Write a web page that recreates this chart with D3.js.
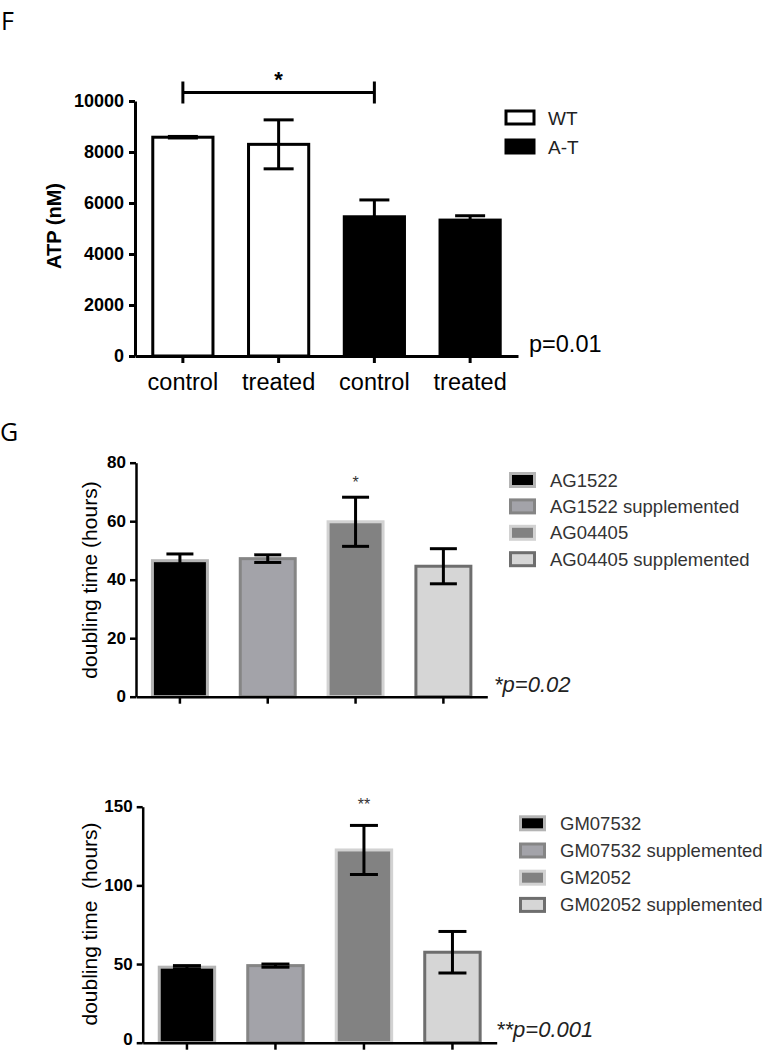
<!DOCTYPE html>
<html>
<head>
<meta charset="utf-8">
<script src="https://cdn.jsdelivr.net/npm/d3@7"></script>
<style>
  html, body { margin: 0; padding: 0; background: #fff; }
  svg { display: block; }
  text { font-family: "Liberation Sans", Arial, sans-serif; }
</style>
</head>
<body>
<svg id="chart" width="764" height="1050"></svg>
<script>
// ---------- DATA ----------
const fCategories = ["control", "treated", "control", "treated"];
const fGroups = ["WT", "WT", "A-T", "A-T"];
const fMeans = [8580, 8300, 5460, 5330];
const fErrors = [30, 960, 660, 170];
const fTicks = [0, 2000, 4000, 6000, 8000, 10000];
const fLegend = ["WT", "A-T"];

const gTopLabels = ["AG1522", "AG1522 supplemented", "AG04405", "AG04405 supplemented"];
const gTopMeans = [46.5, 47.2, 59.8, 44.6];
const gTopErrors = [2.3, 1.3, 8.4, 6.0];
const gTopTicks = [0, 20, 40, 60, 80];

const gBotLabels = ["GM07532", "GM07532 supplemented", "GM2052", "GM02052 supplemented"];
const gBotMeans = [48, 49, 122.5, 57.5];
const gBotErrors = [1, 1, 15.6, 13.2];
const gBotTicks = [0, 50, 100, 150];

// ---------- STYLE ----------
const gFills = ["#000000", "#a3a3a9", "#828282", "#d6d6d6"];
const gStrokes = ["#b4b4b4", "#858585", "#d2d2d2", "#6e6e6e"];

const svg = d3.select("#chart");

// Panel letters
svg.append("text").attr("x", 1).attr("y", 30).text("F")
  .style("font-family", "'Open Sans', sans-serif").style("font-size", "25px").attr("fill", "#000");
svg.append("text").attr("x", 0).attr("y", 441).text("G")
  .style("font-family", "'Open Sans', sans-serif").style("font-size", "25px").attr("fill", "#000");

function styleAxis(g, width, fontSize) {
  g.attr("font-family", null);
  g.selectAll("path.domain").attr("stroke", "#000").attr("stroke-width", width);
  g.selectAll(".tick line").attr("stroke", "#000").attr("stroke-width", width);
  g.selectAll(".tick text").style("font-size", fontSize + "px").style("font-weight", "bold")
    .style("font-family", "'Liberation Sans', Arial, sans-serif").attr("fill", "#000");
}

// ---------- PANEL F ----------
(function () {
  const x0 = 135, x1 = 518, yBase = 356, yTop = 101;
  const idx = d3.range(fMeans.length);
  const x = d3.scaleBand().domain(idx).range([x0, x1]).paddingInner(0.34).paddingOuter(0.17);
  const y = d3.scaleLinear().domain([0, 10000]).range([yBase, yTop]);

  const bars = svg.append("g");
  bars.selectAll("rect").data(idx).enter().append("rect")
    .attr("x", i => x(i) + 1.5)
    .attr("width", x.bandwidth() - 3)
    .attr("y", i => y(fMeans[i]))
    .attr("height", i => yBase - y(fMeans[i]))
    .attr("fill", i => fGroups[i] === "WT" ? "#fff" : "#000")
    .attr("stroke", "#000").attr("stroke-width", 3);

  const eb = svg.append("g").attr("stroke", "#000").attr("stroke-width", 3);
  idx.forEach(i => {
    const cx = x(i) + x.bandwidth() / 2;
    const hi = y(fMeans[i] + fErrors[i]), lo = y(fMeans[i] - fErrors[i]);
    eb.append("line").attr("x1", cx).attr("x2", cx).attr("y1", hi).attr("y2", lo);
    eb.append("line").attr("x1", cx - 15).attr("x2", cx + 15).attr("y1", hi).attr("y2", hi);
    eb.append("line").attr("x1", cx - 15).attr("x2", cx + 15).attr("y1", lo).attr("y2", lo);
  });

  const ya = svg.append("g").attr("transform", `translate(${x0},0)`)
    .call(d3.axisLeft(y).tickValues(fTicks).tickSize(6).tickSizeOuter(0).tickPadding(5).tickFormat(d3.format("d")));
  styleAxis(ya, 3, 18);

  const xa = svg.append("g").attr("transform", `translate(0,${yBase})`)
    .call(d3.axisBottom(x).tickSize(7).tickSizeOuter(0).tickPadding(6).tickFormat(i => fCategories[i]));
  styleAxis(xa, 3, 23.5);
  xa.selectAll(".tick text").style("font-weight", "normal").attr("dy", "0.9em");

  svg.append("text").attr("transform", "translate(61,226) rotate(-90)")
    .attr("text-anchor", "middle").style("font-size", "20px").style("font-weight", "bold")
    .text("ATP (nM)");

  // significance bracket between first and third bars
  const bx1 = x(0) + x.bandwidth() / 2, bx2 = x(2) + x.bandwidth() / 2;
  const br = svg.append("g").attr("stroke", "#000").attr("stroke-width", 3);
  br.append("line").attr("x1", bx1).attr("x2", bx2).attr("y1", 92.5).attr("y2", 92.5);
  br.append("line").attr("x1", bx1).attr("x2", bx1).attr("y1", 81.5).attr("y2", 103.5);
  br.append("line").attr("x1", bx2).attr("x2", bx2).attr("y1", 81.5).attr("y2", 103.5);
  svg.append("text").attr("x", (bx1 + bx2) / 2).attr("y", 87).attr("text-anchor", "middle")
    .style("font-size", "22px").style("font-weight", "bold").text("*");

  svg.append("text").attr("x", 529).attr("y", 352).style("font-size", "23.5px").text("p=0.01");

  // legend
  const lg = svg.append("g");
  fLegend.forEach((name, k) => {
    const yy = 111 + k * 29;
    lg.append("rect").attr("x", 506).attr("y", yy).attr("width", 28).attr("height", 13)
      .attr("fill", name === "WT" ? "#fff" : "#000").attr("stroke", "#000").attr("stroke-width", 3);
    lg.append("text").attr("x", 548).attr("y", yy + 13.5).style("font-size", "19px")
      .attr("fill", "#222").text(name);
  });
})();

// ---------- PANEL G (generic) ----------
function panelG(opts) {
  const { x0, x1, yBase, yTop, max, ticks, means, errors, labels, star, starY,
          ylabel, ylabelX, ylabelY, ptext, ptextX, ptextY, legX, legTextX, legY, legStep, capHalf, zeroDy } = opts;
  const idx = d3.range(means.length);
  const x = d3.scaleBand().domain(idx).range([x0, x1]).paddingInner(0.34).paddingOuter(0.17);
  const y = d3.scaleLinear().domain([0, max]).range([yBase, yTop]);

  svg.append("g").selectAll("rect").data(idx).enter().append("rect")
    .attr("x", i => x(i) + 1.5)
    .attr("width", x.bandwidth() - 3)
    .attr("y", i => y(means[i]))
    .attr("height", i => yBase - y(means[i]))
    .attr("fill", i => gFills[i]).attr("stroke", i => gStrokes[i]).attr("stroke-width", 3);

  const eb = svg.append("g").attr("stroke", "#000").attr("stroke-width", 3);
  idx.forEach(i => {
    const cx = x(i) + x.bandwidth() / 2;
    const hi = y(means[i] + errors[i]), lo = y(means[i] - errors[i]);
    eb.append("line").attr("x1", cx).attr("x2", cx).attr("y1", hi).attr("y2", lo);
    eb.append("line").attr("x1", cx - capHalf).attr("x2", cx + capHalf).attr("y1", hi).attr("y2", hi);
    eb.append("line").attr("x1", cx - capHalf).attr("x2", cx + capHalf).attr("y1", lo).attr("y2", lo);
  });

  const ya = svg.append("g").attr("transform", `translate(${x0},0)`)
    .call(d3.axisLeft(y).tickValues(ticks).tickSize(6).tickSizeOuter(0).tickPadding(4).tickFormat(d3.format("d")));
  styleAxis(ya, 2.5, 17);
  ya.selectAll(".tick text").attr("dy", d => d === 0 ? zeroDy : "0.3em");

  const xa = svg.append("g").attr("transform", `translate(0,${yBase})`)
    .call(d3.axisBottom(x).tickSize(7).tickSizeOuter(0).tickFormat(""));
  styleAxis(xa, 2.5, 17);

  svg.append("text").attr("transform", `translate(${ylabelX},${ylabelY}) rotate(-90)`)
    .attr("text-anchor", "middle").style("font-size", "21px").attr("xml:space", "preserve")
    .style("white-space", "pre").text(ylabel);

  svg.append("text").attr("x", x(2) + x.bandwidth() / 2).attr("y", starY).attr("text-anchor", "middle")
    .style("font-size", "16px").attr("fill", "#333").text(star);

  svg.append("text").attr("x", ptextX).attr("y", ptextY).style("font-size", "22px")
    .style("font-style", "italic").attr("fill", "#222").text(ptext);

  const lg = svg.append("g");
  labels.forEach((name, k) => {
    const cy = legY + k * legStep;
    lg.append("rect").attr("x", legX + 1.5).attr("y", cy - 6.5).attr("width", 24).attr("height", 13)
      .attr("fill", gFills[k]).attr("stroke", gStrokes[k]).attr("stroke-width", 3);
    lg.append("text").attr("x", legTextX).attr("y", cy + 6.5).style("font-size", "18.5px")
      .attr("fill", "#333").text(name);
  });
}

panelG({
  x0: 136, x1: 487.3, yBase: 696.7, yTop: 462.7, max: 80, ticks: gTopTicks,
  means: gTopMeans, errors: gTopErrors, labels: gTopLabels, star: "*", starY: 488,
  ylabel: "doubling time (hours)", ylabelX: 97, ylabelY: 580,
  ptext: "*p=0.02", ptextX: 494, ptextY: 692,
  legX: 509, legTextX: 550, legY: 480, legStep: 26.4, capHalf: 13.5, zeroDy: "0.3em"
});

panelG({
  x0: 142.7, x1: 496.7, yBase: 1042.7, yTop: 806.7, max: 150, ticks: gBotTicks,
  means: gBotMeans, errors: gBotErrors, labels: gBotLabels, star: "**", starY: 810,
  ylabel: "doubling time  (hours)", ylabelX: 97, ylabelY: 924,
  ptext: "**p=0.001", ptextX: 496, ptextY: 1037,
  legX: 519, legTextX: 560, legY: 823.3, legStep: 27.2, capHalf: 14, zeroDy: "0.1em"
});
</script>
</body>
</html>
